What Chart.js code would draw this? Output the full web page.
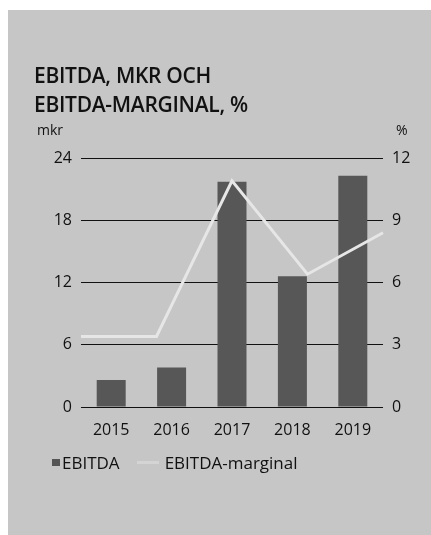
<!DOCTYPE html>
<html lang="sv">
<head>
<meta charset="UTF-8">
<title>EBITDA</title>
<script src="https://cdn.jsdelivr.net/npm/chart.js"></script>
<style>
  body { margin: 0; background: #fff; font-family: "Open Sans", sans-serif; }
  .wrap { position: relative; width: 431px; height: 535px; overflow: hidden; }
  .panel { position: absolute; left: 8px; top: 10px; right: 0; bottom: 0; background: #c6c6c6; }
  canvas { position: absolute; left: 0; top: 0; }
  .title { position: absolute; left: 34px; top: 61px; font-size: 21px; font-weight: 600; line-height: 29px; color: #111; letter-spacing: -0.3px; }
  .unit { position: absolute; top: 120px; font-size: 14px; color: #111; }
  .legend { position: absolute; top: 449px; left: 52px; font-size: 17px; color: #111; white-space: nowrap; }
  .legend span { display: inline-block; vertical-align: middle; }
  .sw { width: 8px; height: 7px; background: #555; margin-right: 2px; }
  .ln { width: 22px; height: 3px; background: #d4d4d4; margin: 0 6px 0 17px; }
</style>
</head>
<body>
<div class="wrap">
  <div class="panel"></div>
  <canvas id="chart" width="431" height="535"></canvas>
  <div class="title">EBITDA, MKR OCH<br>EBITDA-MARGINAL, %</div>
  <div class="unit" style="left:37px">mkr</div>
  <div class="unit" style="left:396px">%</div>
  <div class="legend">
    <span class="sw"></span><span>EBITDA</span><span class="ln"></span><span>EBITDA-marginal</span>
  </div>
</div>
<script>
  const years = ['2015', '2016', '2017', '2018', '2019'];
  const ebitda = [2.6, 3.8, 21.7, 12.6, 22.3];   // mkr
  const marginal = [3.4, 3.4, 10.9, 6.4, 8.4];   // %
  const leftTicks = [0, 6, 12, 18, 24];
  const rightTicks = [0, 3, 6, 9, 12];

  const tickFont = { family: 'Open Sans', size: 16 };

  new Chart(document.getElementById('chart'), {
    data: {
      labels: years,
      datasets: [
        {
          type: 'line',
          label: 'EBITDA-marginal',
          data: marginal,
          xAxisID: 'x2',
          yAxisID: 'y1',
          borderColor: '#e6e6e6',
          borderWidth: 3,
          pointRadius: 0,
          tension: 0,
          order: 0
        },
        {
          type: 'bar',
          label: 'EBITDA',
          data: ebitda,
          xAxisID: 'x',
          yAxisID: 'y',
          backgroundColor: '#575757',
          grouped: false,
          categoryPercentage: 1,
          barPercentage: 0.48,
          order: 1
        }
      ]
    },
    options: {
      responsive: false,
      devicePixelRatio: 1,
      animation: false,
      layout: { padding: { top: 158, left: 0, right: 0, bottom: 0 } },
      plugins: { legend: { display: false }, tooltip: { enabled: false } },
      scales: {
        x: {
          offset: true,
          grid: { display: false },
          border: { display: false },
          ticks: { color: '#111', font: tickFont, padding: 6 },
          afterFit: s => { s.height = 128; }
        },
        x2: {
          type: 'category',
          display: false,
          offset: false
        },
        y: {
          position: 'left',
          min: 0, max: 24,
          afterBuildTicks: s => { s.ticks = leftTicks.map(v => ({ value: v })); },
          grid: { color: '#111', lineWidth: 1, drawTicks: false },
          border: { display: false },
          ticks: { color: '#111', font: tickFont, padding: 9 },
          afterFit: s => { s.width = 81; }
        },
        y1: {
          position: 'right',
          min: 0, max: 12,
          afterBuildTicks: s => { s.ticks = rightTicks.map(v => ({ value: v })); },
          grid: { display: false, drawTicks: false },
          border: { display: false },
          ticks: { color: '#111', font: tickFont, padding: 9 },
          afterFit: s => { s.width = 48; }
        }
      }
    }
  });
</script>
</body>
</html>
